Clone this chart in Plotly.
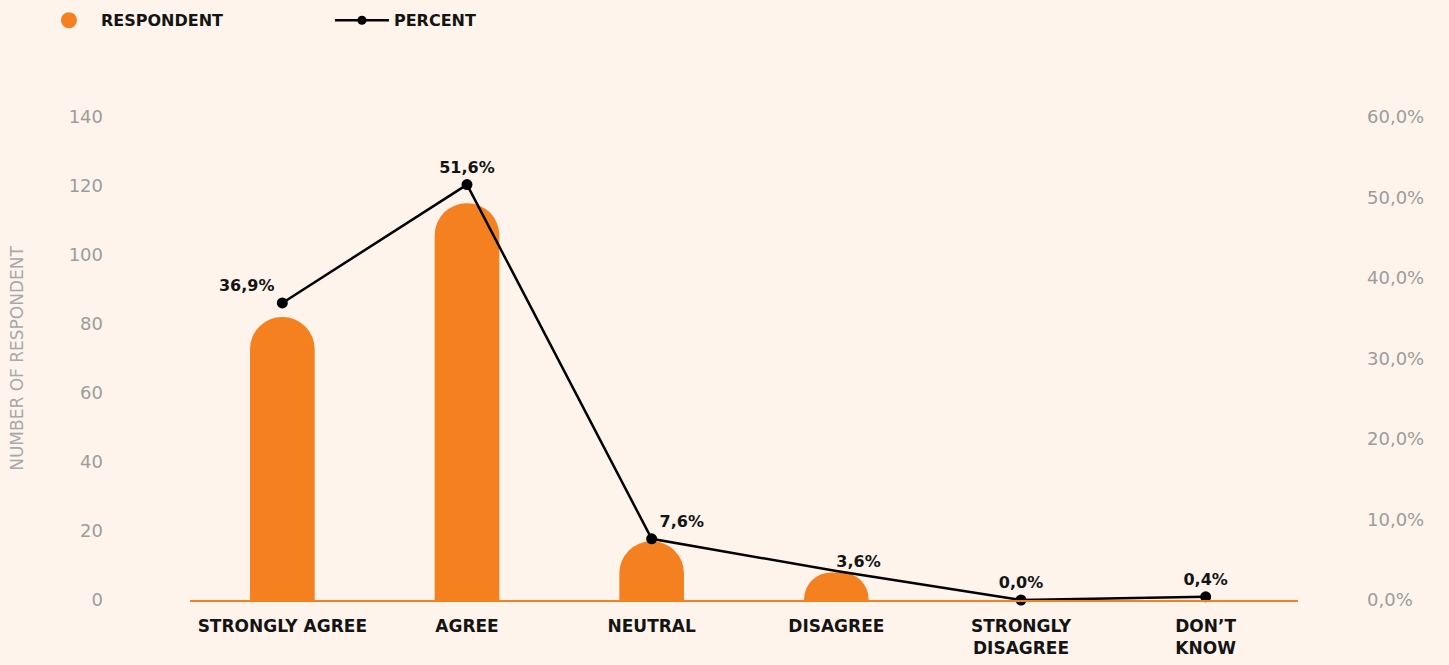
import plotly.graph_objects as go

categories = ["Strongly Agree", "Agree", "Neutral", "Disagree", "Strongly Disagree", "Don't Know"]
tick_labels = ["STRONGLY AGREE", "AGREE", "NEUTRAL", "DISAGREE", "STRONGLY<br>DISAGREE", "DON’T<br>KNOW"]
respondents = [82, 115, 17, 8, 0, 0]
percent = [36.9, 51.6, 7.6, 3.6, 0.0, 0.4]

left_ticks = [0, 20, 40, 60, 80, 100, 120, 140]
right_ticks = [0, 10, 20, 30, 40, 50, 60]
right_tick_labels = ["0,0%", "10,0%", "20,0%", "30,0%", "40,0%", "50,0%", "60,0%"]

BG = "#FEF4EC"
ORANGE = "#F58020"
GREY = "#9C9C9C"
DARK = "#141414"
FONT = "DejaVu Sans"

marker_sizes = [11, 11, 11, 0, 11, 11]
text_pos = ["top left", "top center", "top right", "top right", "top center", "top center"]

fig = go.Figure()

fig.add_trace(go.Bar(
    x=categories, y=respondents, name="RESPONDENT",
    marker=dict(color=ORANGE, cornerradius=32, line=dict(width=0)),
    width=0.35, showlegend=False, yaxis="y",
))

# legend-only entry with circle symbol for the bars
fig.add_trace(go.Scatter(
    x=[None], y=[None], mode="markers", name="RESPONDENT",
    marker=dict(color=ORANGE, size=22, symbol="circle", line=dict(width=0)), showlegend=True,
))

fig.add_trace(go.Scatter(
    x=categories, y=percent, name="PERCENT", yaxis="y2",
    mode="lines+markers+text",
    line=dict(color="#000000", width=2.5),
    marker=dict(color="#000000", size=marker_sizes, opacity=1, line=dict(width=0)),
    texttemplate="%{y:.1f}%", textposition=text_pos,
    textfont=dict(family=FONT, size=16, color=DARK, weight="bold"),
    cliponaxis=False,
))

fig.update_layout(
    width=1449, height=665,
    paper_bgcolor=BG, plot_bgcolor=BG,
    separators=", ",
    margin=dict(l=190, r=151, t=117, b=65, autoexpand=False),
    font=dict(family=FONT, color=DARK),
    showlegend=True,
    legend=dict(
        orientation="h", xref="container", yref="container",
        x=0.0255, y=0.995, xanchor="left", yanchor="top",
        font=dict(family=FONT, size=16, color=DARK, weight="bold"),
        entrywidth=224, entrywidthmode="pixels", itemwidth=54,
        bgcolor="rgba(0,0,0,0)",
    ),
    xaxis=dict(
        type="category", categoryorder="array", categoryarray=categories,
        tickmode="array", tickvals=categories, ticktext=tick_labels,
        tickfont=dict(family=FONT, size=17, color=DARK, weight="bold"),
        showgrid=False, zeroline=False,
        showline=True, linecolor=ORANGE, linewidth=1.5,
        ticks="", ticklabelstandoff=10,
    ),
    yaxis=dict(
        range=[0, 140], tickmode="array", tickvals=left_ticks,
        tickfont=dict(family=FONT, size=18, color=GREY),
        showgrid=False, zeroline=False, showline=False, ticks="",
        ticklabelstandoff=86,
        title=dict(text="NUMBER OF RESPONDENT", font=dict(family=FONT, size=17, color="#A8A8A8"), standoff=40),
    ),
    yaxis2=dict(
        range=[0, 60], overlaying="y", side="right",
        tickmode="array", tickvals=right_ticks, ticktext=right_tick_labels,
        tickfont=dict(family=FONT, size=18, color=GREY),
        showgrid=False, zeroline=False, showline=False, ticks="",
        ticklabelstandoff=68,
    ),
)

fig.write_html("out.html")
